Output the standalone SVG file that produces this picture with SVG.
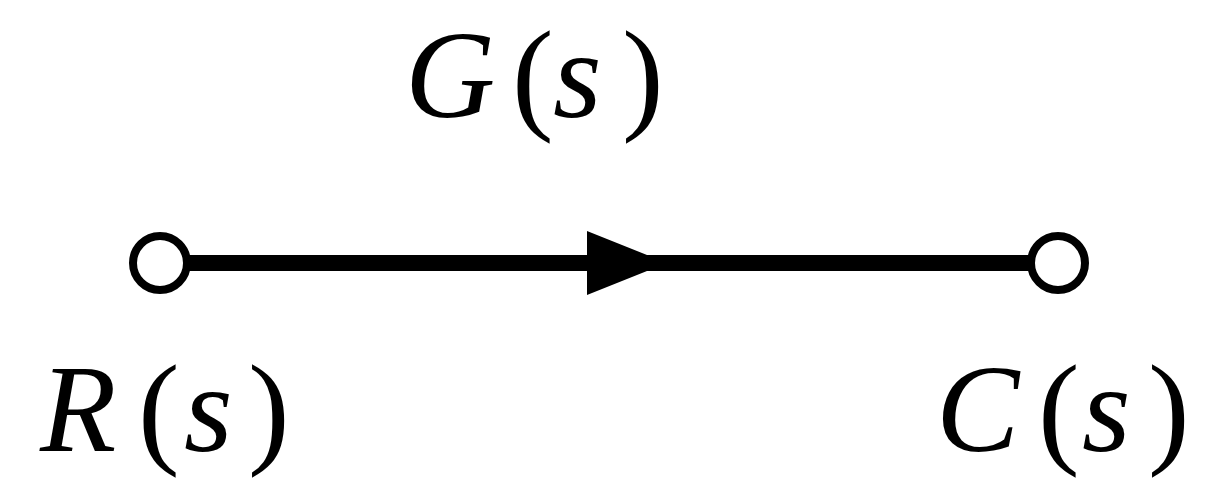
<svg xmlns="http://www.w3.org/2000/svg" width="1215" height="481" viewBox="0 0 1215 481">
<style>
.it{font-style:italic}
.node{fill:#fff;stroke:#000;stroke-width:8}
.edge{stroke:#000;stroke-width:16;fill:none}
</style>
<rect width="1215" height="481" fill="#fff"/>
<g id="connectors">
<line class="edge" x1="185" y1="263" x2="1032" y2="263"/>
<polygon points="587,231 667,263 587,295" fill="#000"/>
<text transform="scale(2)" font-family="Liberation Serif" font-size="62.5" y="58.5"><tspan class="it" x="202.5">G</tspan><tspan x="256">(</tspan><tspan class="it" x="276.5">s</tspan><tspan x="311">)</tspan></text>
</g>
<g id="R">
<circle class="node" cx="160" cy="263" r="27"/>
<text transform="scale(2)" font-family="Liberation Serif" font-size="62.5" y="225.5"><tspan class="it" x="20">R</tspan><tspan x="69">(</tspan><tspan class="it" x="92">s</tspan><tspan x="124">)</tspan></text>
</g>
<g id="C">
<circle class="node" cx="1058" cy="263" r="27"/>
<text transform="scale(2)" font-family="Liberation Serif" font-size="62.5" y="225.5"><tspan class="it" x="468">C</tspan><tspan x="519">(</tspan><tspan class="it" x="541">s</tspan><tspan x="574">)</tspan></text>
</g>
</svg>
